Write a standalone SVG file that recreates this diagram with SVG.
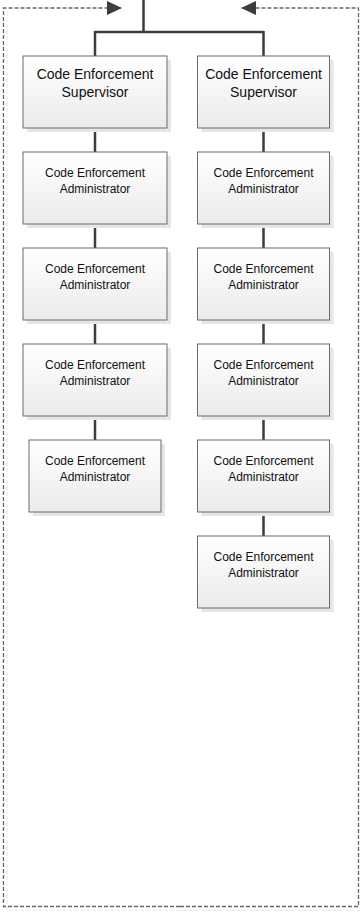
<svg xmlns="http://www.w3.org/2000/svg" width="360" height="917" viewBox="0 0 360 917">
<style>
.box{fill:url(#g);stroke:#6b6b6b;stroke-width:1}
.sh{fill:#e6e6e6}
.t1{font-family:"Liberation Sans",Arial,sans-serif;font-size:14px;fill:#111;text-anchor:middle}
.t2{font-family:"Liberation Sans",Arial,sans-serif;font-size:12px;fill:#111;text-anchor:middle}
.ln{stroke:#3d3d3d;stroke-width:2.5;fill:none}
.dash{stroke:#666;stroke-width:1.3;fill:none;stroke-dasharray:4 2}
.dsh{stroke:#eaeaea;stroke-width:1.2;fill:none;stroke-dasharray:4 2}
</style>
<defs>
<linearGradient id="g" x1="0" y1="0" x2="0" y2="1">
<stop offset="0" stop-color="#ffffff"/>
<stop offset="1" stop-color="#ebebeb"/>
</linearGradient>
<marker id="ah" markerWidth="15" markerHeight="14" refX="15" refY="7" orient="auto" markerUnits="userSpaceOnUse">
<path d="M0,0 L15,7 L0,14 Z" fill="#3d3d3d"/>
</marker>
</defs>
<g id="connectors">
<path class="dsh" d="M7,12 V910.5 H362"/>
<path class="dash" d="M180,906.5 H3.5 V8 H122" marker-end="url(#ah)"/>
<path class="dash" d="M180,906.5 H358.5 V8 H241" marker-end="url(#ah)"/>
<path class="ln" d="M143.5,0 V32 M95,32 H263.5 M95,31 V56 M263.5,31 V56"/>
<path class="ln" d="M95,128 V152 M95,224 V248 M95,320 V344 M95,416 V440"/>
<path class="ln" d="M263.5,128 V152 M263.5,224 V248 M263.5,320 V344 M263.5,416 V440 M263.5,512 V536"/>
</g>
<g id="sup-left"><rect class="sh" x="27" y="60" width="144" height="72"/><rect class="box" x="23" y="56" width="144" height="72"/><text class="t1" x="95" y="78.5">Code Enforcement</text><text class="t1" x="95" y="96.5">Supervisor</text></g>
<g id="sup-right"><rect class="sh" x="201.5" y="60" width="132" height="72"/><rect class="box" x="197.5" y="56" width="132" height="72"/><text class="t1" x="263.5" y="78.5">Code Enforcement</text><text class="t1" x="263.5" y="96.5">Supervisor</text></g>
<g id="admin-l1"><rect class="sh" x="27" y="156" width="144" height="72"/><rect class="box" x="23" y="152" width="144" height="72"/><text class="t2" x="95" y="176.5">Code Enforcement</text><text class="t2" x="95" y="192.5">Administrator</text></g>
<g id="admin-l2"><rect class="sh" x="27" y="252" width="144" height="72"/><rect class="box" x="23" y="248" width="144" height="72"/><text class="t2" x="95" y="272.5">Code Enforcement</text><text class="t2" x="95" y="288.5">Administrator</text></g>
<g id="admin-l3"><rect class="sh" x="27" y="348" width="144" height="72"/><rect class="box" x="23" y="344" width="144" height="72"/><text class="t2" x="95" y="368.5">Code Enforcement</text><text class="t2" x="95" y="384.5">Administrator</text></g>
<g id="admin-l4"><rect class="sh" x="33" y="444" width="132" height="72"/><rect class="box" x="29" y="440" width="132" height="72"/><text class="t2" x="95" y="464.5">Code Enforcement</text><text class="t2" x="95" y="480.5">Administrator</text></g>
<g id="admin-r1"><rect class="sh" x="201.5" y="156" width="132" height="72"/><rect class="box" x="197.5" y="152" width="132" height="72"/><text class="t2" x="263.5" y="176.5">Code Enforcement</text><text class="t2" x="263.5" y="192.5">Administrator</text></g>
<g id="admin-r2"><rect class="sh" x="201.5" y="252" width="132" height="72"/><rect class="box" x="197.5" y="248" width="132" height="72"/><text class="t2" x="263.5" y="272.5">Code Enforcement</text><text class="t2" x="263.5" y="288.5">Administrator</text></g>
<g id="admin-r3"><rect class="sh" x="201.5" y="348" width="132" height="72"/><rect class="box" x="197.5" y="344" width="132" height="72"/><text class="t2" x="263.5" y="368.5">Code Enforcement</text><text class="t2" x="263.5" y="384.5">Administrator</text></g>
<g id="admin-r4"><rect class="sh" x="201.5" y="444" width="132" height="72"/><rect class="box" x="197.5" y="440" width="132" height="72"/><text class="t2" x="263.5" y="464.5">Code Enforcement</text><text class="t2" x="263.5" y="480.5">Administrator</text></g>
<g id="admin-r5"><rect class="sh" x="201.5" y="540" width="132" height="72"/><rect class="box" x="197.5" y="536" width="132" height="72"/><text class="t2" x="263.5" y="560.5">Code Enforcement</text><text class="t2" x="263.5" y="576.5">Administrator</text></g>
</svg>
